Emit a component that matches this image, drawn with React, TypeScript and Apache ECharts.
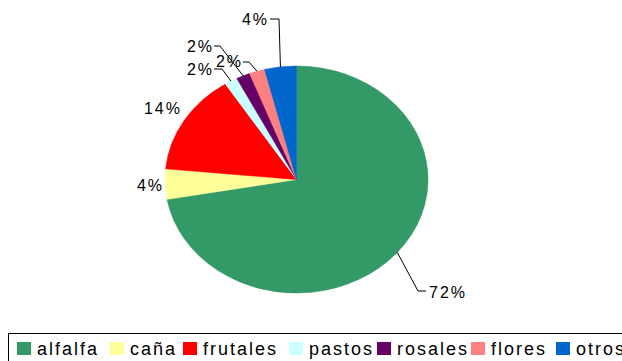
import React, { useEffect, useRef } from "react";
import * as echarts from "echarts";

// Crop area shares (%)
const categories = ["alfalfa", "caña", "frutales", "pastos", "rosales", "flores", "otros"];
const shares = [72.2, 4.3, 14.4, 1.6, 1.7, 1.9, 3.9];
const sliceColors = ["#339966", "#FFFF99", "#FF0000", "#CCFFFF", "#660066", "#FF8080", "#0066CC"];

// Elliptical pie geometry
const PIE = { cx: 296.5, cy: 179.5, rx: 131.5, ry: 113.5 };

// Percentage label placement, with optional leader elbow / end points
type LabelSpot = { x: number; y: number; align: "left" | "right"; elbow?: number[]; end?: number[] };
const labelLayout: LabelSpot[] = [
  { x: 429, y: 292, align: "left", elbow: [418, 291], end: [426, 291] },
  { x: 164, y: 185, align: "right" },
  { x: 182, y: 108, align: "right" },
  { x: 214, y: 69, align: "right", elbow: [222, 69], end: [214, 69] },
  { x: 214, y: 46, align: "right", elbow: [220, 46], end: [214, 46] },
  { x: 243, y: 61, align: "right", elbow: [249, 62], end: [243, 62] },
  { x: 269, y: 19, align: "right", elbow: [279, 19], end: [270, 19] },
];

// Legend swatch left edges
const legendItemX = [17, 110, 183, 289, 377, 471, 556];
const LEGEND = { boxX: 8.5, boxY: 333.5, boxW: 720, boxH: 40, swatchY: 342, swatch: 13, textGap: 20, textY: 349 };

const FONT = "'Liberation Sans', Arial, Helvetica, sans-serif";

const total = shares.reduce((a, b) => a + b, 0);

function makeRenderItem(i: number) {
  const before = shares.slice(0, i).reduce((a, b) => a + b, 0);
  const lab = labelLayout[i];
  return (params: any, api: any) => {
    const v = api.value(0) as number;
    const a0 = -Math.PI / 2 + (2 * Math.PI * before) / total;
    const a1 = a0 + (2 * Math.PI * v) / total;
    const mid = (a0 + a1) / 2;
    const ex = PIE.cx + PIE.rx * Math.cos(mid);
    const ey = PIE.cy + PIE.ry * Math.sin(mid);
    const color = api.visual("color");
    const children: any[] = [
      {
        type: "group",
        x: PIE.cx,
        y: PIE.cy,
        scaleY: PIE.ry / PIE.rx,
        children: [
          {
            type: "sector",
            shape: { cx: 0, cy: 0, r0: 0, r: PIE.rx, startAngle: a0, endAngle: a1, clockwise: true },
            style: { fill: color, stroke: color, lineWidth: 0.6 },
          },
        ],
      },
    ];
    if (lab.elbow && lab.end) {
      children.push({
        type: "polyline",
        shape: { points: [[ex, ey], lab.elbow, lab.end] },
        style: { stroke: "#000", lineWidth: 1, fill: "none" },
      });
    }
    children.push({
      type: "text",
      x: lab.x,
      y: lab.y,
      style: {
        text: Math.round((v / total) * 100) + "%",
        fill: "#000",
        fontSize: 16,
        fontFamily: FONT,
        align: lab.align,
        verticalAlign: "middle",
      },
    });
    return { type: "group", children };
  };
}

// Boxed legend row along the bottom edge
function buildLegend() {
  const elements: any[] = [
    {
      type: "rect",
      shape: { x: LEGEND.boxX, y: LEGEND.boxY, width: LEGEND.boxW, height: LEGEND.boxH },
      style: { fill: "#fff", stroke: "#000", lineWidth: 1 },
      silent: true,
    },
  ];
  categories.forEach((name, i) => {
    elements.push({
      type: "rect",
      shape: { x: legendItemX[i], y: LEGEND.swatchY, width: 14, height: LEGEND.swatch },
      style: { fill: sliceColors[i] },
      silent: true,
    });
    elements.push({
      type: "text",
      x: legendItemX[i] + LEGEND.textGap,
      y: LEGEND.textY,
      style: {
        text: name,
        fill: "#000",
        fontSize: 18,
        fontFamily: FONT,
        align: "left",
        verticalAlign: "middle",
      },
      silent: true,
    });
  });
  return elements;
}

export default function App() {
  const ref = useRef<HTMLDivElement>(null);

  useEffect(() => {
    if (!ref.current) return;
    const chart = echarts.init(ref.current, undefined, { renderer: "svg" });
    chart.setOption({
      animation: false,
      backgroundColor: "#ffffff",
      graphic: buildLegend(),
      series: categories.map((name, i) => ({
        type: "custom",
        name,
        coordinateSystem: "none",
        itemStyle: { color: sliceColors[i] },
        data: [shares[i]],
        renderItem: makeRenderItem(i),
      })),
    });
    return () => chart.dispose();
  }, []);

  return (
    <div
      ref={ref}
      style={{
        position: "fixed",
        left: 0,
        top: 0,
        width: 622,
        height: 361,
        background: "#fff",
        letterSpacing: "2px",
      }}
    />
  );
}
